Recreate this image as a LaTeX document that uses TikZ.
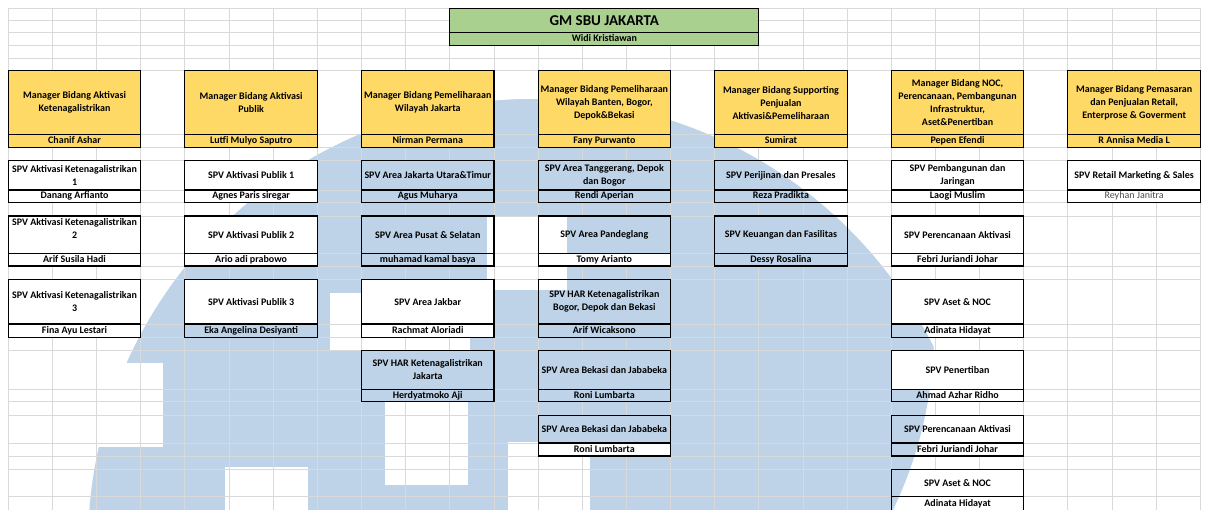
\documentclass[tikz,border=0pt]{standalone}
\usepackage{fontspec}
\setmainfont{Carlito}
\usepackage{xcolor}
\usetikzlibrary{positioning}
\definecolor{mgryellow}{RGB}{255,217,102}
\definecolor{gmgreen}{RGB}{169,208,142}
\definecolor{logoblue}{RGB}{190,211,232}
\definecolor{sheetgrid}{RGB}{217,217,217}
\newcommand{\umnlogo}{%
  \begin{scope}
    \clip (534,545) circle (446);
    \fill[logoblue] (520,330) circle (414);
    \fill[logoblue] (0,0) rectangle (520,600);
  \end{scope}
  \fill[white] (0,363) rectangle (163,447);
  \fill[white] (225,467) rectangle (308,520);
  \fill[white] (330,293) rectangle (470,350);
  \fill[white] (385,402) rectangle (468,485);
  \fill[white] (487,217) rectangle (567,290);
  \fill[white] (508,442) rectangle (590,520);
}
\tikzset{
  sheetline/.style={sheetgrid, line width=0.9pt},
  cell/.style={draw, line width=1.1pt, inner sep=0pt, outer sep=0pt, align=center,
    minimum width=132.5pt, font=\fontsize{10}{13}\selectfont\bfseries},
  namecell/.style={cell, text height=7pt, text depth=2pt},
  mgr/.style={cell, fill=mgryellow, minimum height=64pt},
  mgrname/.style={namecell, fill=mgryellow, minimum height=12.6pt},
}
\begin{document}
\begin{tikzpicture}[x=1pt,y=-1pt]
   \useasboundingbox (0,0) rectangle (1207,510);
   \fill[white] (0,0) rectangle (1207,510);
   \umnlogo
   \foreach \k in {0,...,27}
      \draw[sheetline] ({8.3+44.15*\k},8.3) -- ({8.3+44.15*\k},512);
   \foreach \y in {8.3,20.7,32.5,45.3,58.0,70.7,134.7,147.3,160.7,190.0,202.7,216.0,253.3,266.0,
      279.3,324.0,337.3,350.7,389.3,401.7,415.7,443.0,456.0,469.3,496.7}
      \draw[sheetline] (8.3,\y) -- (1200.4,\y);
   % GM
   \node[cell, fill=gmgreen, minimum width=309.1pt, minimum height=24.2pt,
      font=\fontsize{15}{18}\selectfont\bfseries] (gm) at (604.35,20.4) {GM SBU JAKARTA};
   \node[namecell, fill=gmgreen, minimum width=309.1pt, minimum height=12.8pt,
      below=0pt of gm] (gmname) {Widi Kristiawan};
   % managers
   \foreach \col/\ttl/\who in {
      0/{Manager Bidang Aktivasi\\Ketenagalistrikan}/{Chanif Ashar},
      1/{Manager Bidang Aktivasi\\Publik}/{Lutfi Mulyo Saputro},
      2/{Manager Bidang Pemeliharaan\\Wilayah Jakarta}/{Nirman Permana},
      3/{Manager Bidang Pemeliharaan\\Wilayah Banten, Bogor,\\Depok\&Bekasi}/{Fany Purwanto},
      4/{Manager Bidang Supporting\\Penjualan\\Aktivasi\&Pemeliharaan}/{Sumirat},
      5/{Manager Bidang NOC,\\Perencanaan, Pembangunan\\Infrastruktur,\\Aset\&Penertiban}/{Pepen Efendi},
      6/{Manager Bidang Pemasaran\\dan Penjualan Retail,\\Enterprose \& Goverment}/{R Annisa Media L}}
   {
      \pgfmathsetmacro\xm{74.55+176.6*\col}
      \node[mgr] (mgr\col) at (\xm,102.7) {\ttl};
      \node[mgrname, below=0pt of mgr\col] (boss\col) {\who};
   }
   % supervisors (c = logo shows through the cell)
   \foreach \col/\slot/\ttl/\who/\tf/\nf in {
      0/1/{SPV Aktivasi Ketenagalistrikan\\1}/{Danang Arfianto}/w/w,
      0/2/{SPV Aktivasi Ketenagalistrikan\\2\\\mbox{}}/{Arif Susila Hadi}/w/w,
      0/3/{SPV Aktivasi Ketenagalistrikan\\3}/{Fina Ayu Lestari}/w/w,
      1/1/{SPV Aktivasi Publik 1}/{Agnes Paris siregar}/w/w,
      1/2/{SPV Aktivasi Publik 2}/{Ario adi prabowo}/w/w,
      1/3/{SPV Aktivasi Publik 3}/{Eka Angelina Desiyanti}/w/c,
      2/1/{SPV Area Jakarta Utara\&Timur}/{Agus Muharya}/c/c,
      2/2/{SPV Area Pusat \& Selatan}/{muhamad kamal basya}/c/c,
      2/3/{SPV Area Jakbar}/{Rachmat Aloriadi}/w/w,
      2/4/{SPV HAR Ketenagalistrikan\\Jakarta}/{Herdyatmoko Aji}/c/c,
      3/1/{SPV Area Tanggerang, Depok\\dan Bogor}/{Rendi Aperian}/c/c,
      3/2/{SPV Area Pandeglang}/{Tomy Arianto}/c/w,
      3/3/{SPV HAR Ketenagalistrikan\\Bogor, Depok dan Bekasi}/{Arif Wicaksono}/c/c,
      3/4/{SPV Area Bekasi dan Jababeka}/{Roni Lumbarta}/c/c,
      3/5/{SPV Area Bekasi dan Jababeka}/{Roni Lumbarta}/c/w,
      4/1/{SPV Perijinan dan Presales}/{Reza Pradikta}/c/c,
      4/2/{SPV Keuangan dan Fasilitas}/{Dessy Rosalina}/c/c,
      5/1/{SPV Pembangunan dan\\Jaringan}/{Laogi Muslim}/w/w,
      5/2/{SPV Perencanaan Aktivasi}/{Febri Juriandi Johar}/w/w,
      5/3/{SPV Aset \& NOC}/{Adinata Hidayat}/w/c,
      5/4/{SPV Penertiban}/{Ahmad Azhar Ridho}/w/c,
      5/5/{SPV Perencanaan Aktivasi}/{Febri Juriandi Johar}/c/c,
      5/6/{SPV Aset \& NOC}/{Adinata Hidayat}/c/c,
      6/1/{SPV Retail Marketing \& Sales}/{\mdseries\color{black!70}Reyhan Janitra}/w/w}
   {
      \pgfmathsetmacro\xl{8.3+176.6*\col}
      \pgfmathsetmacro\xr{\xl+132.5}
      \pgfmathsetmacro\ya{{160.7,216.0,279.3,350.7,415.7,469.3}[\slot-1]}
      \pgfmathsetmacro\yb{{190.0,253.3,324.0,389.3,443.0,496.7}[\slot-1]}
      \pgfmathsetmacro\yc{{202.7,266.0,337.3,401.7,456.0,512.0}[\slot-1]}
      \fill[white] (\xl,\ya) rectangle (\xr,\yc);
      \if\tf c\begin{scope}\clip (\xl,\ya) rectangle (\xr,\yb); \umnlogo\end{scope}\fi
      \if\nf c\begin{scope}\clip (\xl,\yb) rectangle (\xr,\yc); \umnlogo\end{scope}\fi
      \node[cell, minimum height={\yb-\ya}] (spv\col\slot) at ({\xl+66.25},{(\ya+\yb)/2}) {\ttl};
      \node[namecell, minimum height={\yc-\yb}, below=0pt of spv\col\slot] (who\col\slot) {\who};
   }
\end{tikzpicture}
\end{document}
